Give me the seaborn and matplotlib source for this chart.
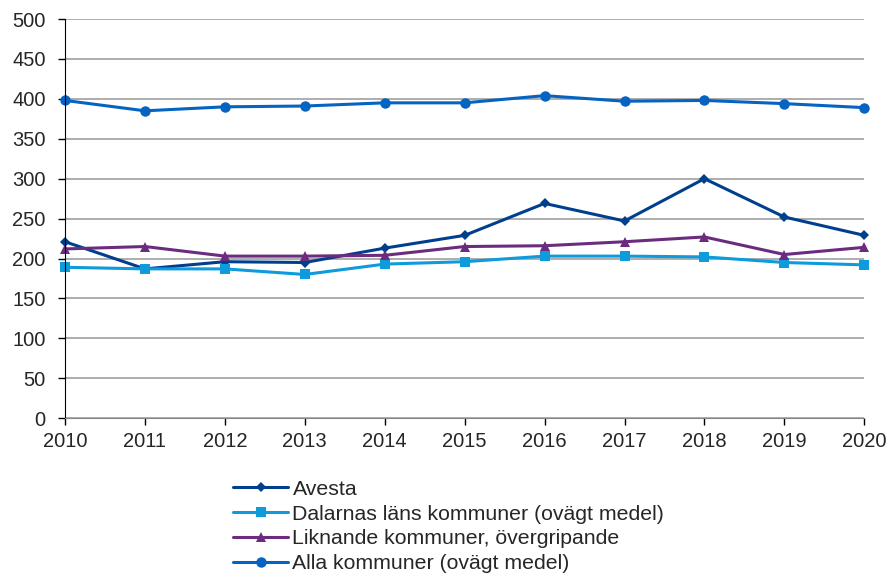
import matplotlib
matplotlib.use("Agg")
import matplotlib.pyplot as plt
import pandas as pd
import seaborn as sns

years = [2010, 2011, 2012, 2013, 2014, 2015, 2016, 2017, 2018, 2019, 2020]
avesta = [221, 187, 196, 195, 213, 229, 269, 247, 300, 252, 229]
dalarna = [189, 187, 187, 180, 193, 196, 203, 203, 202, 195, 192]
liknande = [212, 215, 203, 203, 204, 215, 216, 221, 227, 205, 214]
alla = [398, 385, 390, 391, 395, 395, 404, 397, 398, 394, 389]

names = [
    "Avesta",
    "Dalarnas läns kommuner (ovägt medel)",
    "Liknande kommuner, övergripande",
    "Alla kommuner (ovägt medel)",
]
colors = ["#003F8E", "#0E9BDC", "#6B2C80", "#0563C1"]
markers = ["D", "s", "^", "o"]
msizes = [5, 7, 7, 7.5]

sns.set_style("white")
plt.rcParams["font.family"] = ["Liberation Sans", "DejaVu Sans"]

fig = plt.figure(figsize=(8.91, 5.76), dpi=100)
ax = fig.add_axes([0.073, 0.274, 0.897, 0.693])

for name, vals, c, m, ms in zip(names, [avesta, dalarna, liknande, alla], colors, markers, msizes):
    df = pd.DataFrame({"year": years, "value": vals})
    sns.lineplot(data=df, x="year", y="value", ax=ax, color=c, marker=m,
                 markersize=ms, markeredgewidth=0, linewidth=2.2, label=name,
                 clip_on=False)

ax.set_xlim(2010, 2020)
ax.set_ylim(0, 500)
ax.set_xticks(years)
ax.set_yticks(range(0, 501, 50))
ax.set_xlabel("")
ax.set_ylabel("")
ax.grid(axis="y", color="#a0a0a0", linewidth=1.2)
ax.set_axisbelow(True)
for s in ["top", "right"]:
    ax.spines[s].set_visible(False)
ax.spines["left"].set_color("black")
ax.spines["bottom"].set_color("#888888")
ax.tick_params(axis="both", which="major", direction="out", length=5,
               width=1, color="black", labelsize=14.5, left=True, bottom=True)
ax.tick_params(axis="y", pad=9)
ax.tick_params(axis="x", pad=5)

leg = ax.legend(loc="upper left", bbox_to_anchor=(0.2615, 0.167),
                bbox_transform=fig.transFigure, frameon=False,
                fontsize=15.3, handlelength=2.6, handletextpad=0.2,
                labelspacing=0.27, borderaxespad=0, borderpad=0)

fig.savefig("out.png", dpi=100)
